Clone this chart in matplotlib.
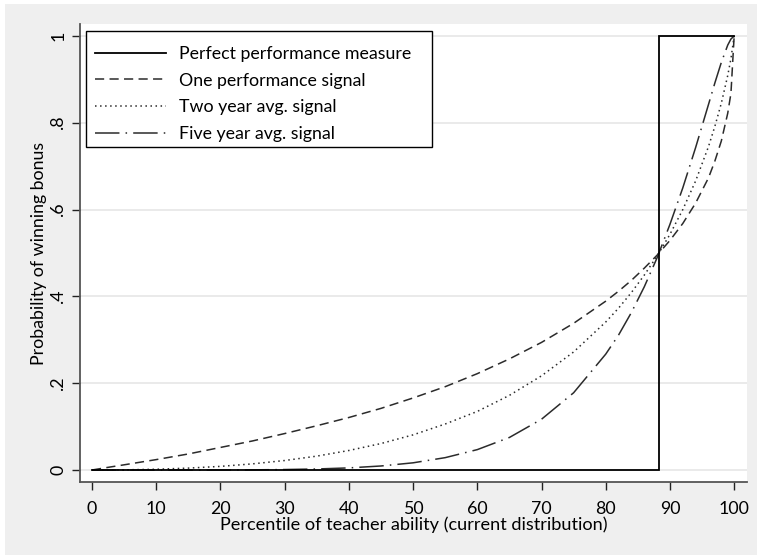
import matplotlib
matplotlib.use("Agg")
import matplotlib.pyplot as plt
from matplotlib.patches import Rectangle

plt.rcParams['font.family'] = ['Lato', 'DejaVu Sans']

# ---- data ----
pct = [0, 2, 5, 10, 15, 20, 25, 30, 35, 40, 45, 50, 55, 60, 65, 70, 75,
       80, 82, 84, 86, 88, 90, 92, 94, 96, 97, 98, 99, 99.5, 100]
one_signal = [0, 0.005, 0.012, 0.024, 0.037, 0.052, 0.067, 0.084, 0.102, 0.121,
              0.142, 0.166, 0.192, 0.222, 0.256, 0.294, 0.338, 0.389, 0.412,
              0.437, 0.465, 0.495, 0.529, 0.568, 0.615, 0.673, 0.712, 0.758,
              0.822, 0.868, 1.0]
two_year = [0, 0.0001, 0.0004, 0.0018, 0.0044, 0.0084, 0.0142, 0.0219, 0.032,
            0.045, 0.061, 0.081, 0.106, 0.135, 0.172, 0.217, 0.272, 0.341,
            0.373, 0.409, 0.449, 0.493, 0.543, 0.600, 0.666, 0.745, 0.792,
            0.845, 0.909, 0.948, 1.0]
five_year = [0, 0, 0, 0, 0.00003, 0.00014, 0.0004, 0.0011, 0.0024, 0.0049,
             0.0093, 0.0166, 0.0285, 0.047, 0.075, 0.117, 0.178, 0.267, 0.311,
             0.363, 0.422, 0.489, 0.566, 0.650, 0.743, 0.842, 0.892, 0.939,
             0.979, 0.993, 1.0]
perfect_x = [0, 88.3, 88.3, 100]
perfect_y = [0, 0, 1, 1]

labels = ["Perfect performance measure", "One performance signal",
          "Two year avg. signal", "Five year avg. signal"]
xticks = [0, 10, 20, 30, 40, 50, 60, 70, 80, 90, 100]
yticks = [0, 0.2, 0.4, 0.6, 0.8, 1.0]
yticklabels = ["0", ".2", ".4", ".6", ".8", "1"]

W, H = 757, 555
fig = plt.figure(figsize=(W / 100, H / 100), dpi=100)
fig.patch.set_facecolor("white")
fig.patches.append(Rectangle((5 / W, 0), 1 - 5 / W, 1 - 4 / H, transform=fig.transFigure,
                             facecolor="#efefef", edgecolor="none", zorder=-10))

ax = fig.add_axes([80 / W, 1 - 482 / H, (747 - 80) / W, (482 - 24) / H])
ax.set_facecolor("white")
ax.set_xlim(-1.87, 102.0)
ax.set_ylim(-0.0276, 1.0276)

ax.plot(perfect_x, perfect_y, color="black", lw=1.3, solid_joinstyle="miter", label=labels[0], zorder=5)
ax.plot(pct, one_signal, color="#2b2b2b", lw=1.1, ls=(0, (6, 3.5)), label=labels[1], zorder=4)
ax.plot(pct, two_year, color="#2b2b2b", lw=1.1, ls=(0, (1.0, 2.3)), label=labels[2], zorder=4)
ax.plot(pct, five_year, color="#2b2b2b", lw=1.1, ls=(0, (16, 4, 1, 4)), label=labels[3], zorder=4)

ax.set_xticks(xticks)
ax.set_xticklabels([str(t) for t in xticks])
ax.set_yticks(yticks)
ax.set_yticklabels(yticklabels, rotation=90, va="center")
ax.tick_params(axis="both", labelsize=12.8, colors="#222222", length=6, width=1.0, direction="out")
ax.tick_params(axis="x", pad=7.5)
ax.tick_params(axis="y", pad=4)
for t in ax.get_xticklabels() + ax.get_yticklabels():
    t.set_color("black")

ax.grid(axis="y", color="#e6e6e6", lw=1.2)
ax.set_axisbelow(True)
for s in ["top", "right"]:
    ax.spines[s].set_visible(False)
for s in ["left", "bottom"]:
    ax.spines[s].set_color("#555555")
    ax.spines[s].set_linewidth(1.3)

ax.set_xlabel("Percentile of teacher ability (current distribution)", fontsize=13.1, labelpad=0)
ax.set_ylabel("Probability of winning bonus", fontsize=12.8, labelpad=2)

leg = ax.legend(loc="upper left", bbox_to_anchor=(15 / 667, (482 - 46) / 458), frameon=False,
                fontsize=12.8, handlelength=4.0, handletextpad=0.73, labelspacing=0.6,
                borderaxespad=0, borderpad=0)
ax.add_patch(Rectangle(((86 - 80) / 667, (482 - 147) / 458), (432 - 86) / 667, (147 - 31) / 458,
                       transform=ax.transAxes, facecolor="white", edgecolor="black", lw=1.0, zorder=3))

fig.savefig("out.png", dpi=100)
